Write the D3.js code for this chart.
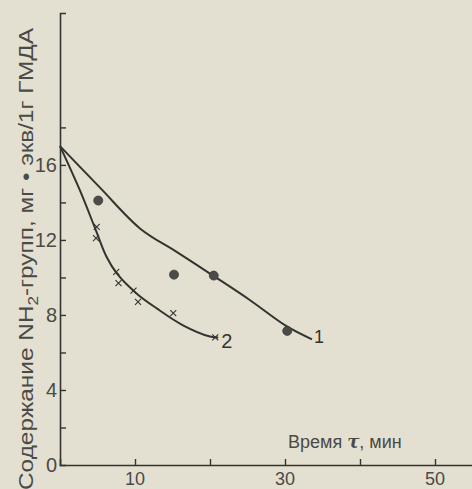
<!DOCTYPE html>
<html>
<head>
<meta charset="utf-8">
<title>NH2-группы ГМДА</title>
<style type="text/css">
body {margin: 0; background: #e4e0d1;}
svg {display: block;}
.axis text {font-family: "Liberation Sans", sans-serif; fill: #4a4a46;}
</style>
</head>
<body>
<svg width="472" height="489"></svg>
<script src="https://d3js.org/d3.v7.min.js"></script>
<script>
// значения (время, мин / мг-экв NH2 на 1 г ГМДА)
var curve1T = [0, 5.3, 10.7, 15.6, 20.4, 25.3, 30.2, 33.6];
var curve1V = [17.0, 14.8, 12.6, 11.35, 10.1, 8.8, 7.4, 6.7];
var curve2T = [0, 2.7, 4.7, 6.2, 7.6, 10.2, 12.9, 16.4, 20, 21.1];
var curve2V = [17.0, 14.6, 12.6, 11.1, 10.2, 9.15, 8.35, 7.45, 6.85, 6.8];
var circleT = [5.1, 15.2, 20.5, 30.3];
var circleV = [14.1, 10.15, 10.1, 7.15];
var crossT = [4.9, 4.8, 7.5, 7.8, 9.8, 10.4, 15.1, 20.7];
var crossV = [12.7, 12.1, 10.3, 9.7, 9.3, 8.7, 8.1, 6.8];
var xTicks = [10, 20, 30, 40, 50];
var xLabels = [10, 30, 50];
var yTicks = [2, 4, 6, 8, 10, 12, 14, 16, 18];
var yLabels = [0, 4, 8, 12, 16];

var ink = "#33332f";
var svg = d3.select("svg");

var x = d3.scaleLinear().domain([0, 55]).range([60, 472.5]);
var y = d3.scaleLinear().domain([0, 24.1]).range([465, 13]);

function zip(a, b) {
    return a.map(function(d, i) { return [d, b[i]]; });
}

// оси
var gx = svg.append("g")
    .attr("class", "axis")
    .attr("transform", "translate(0," + y(0) + ")")
    .call(d3.axisTop(x).tickValues(xTicks).tickSize(6).tickFormat(""));
gx.select(".domain").attr("stroke", ink).attr("stroke-width", 1.6);
gx.selectAll(".tick line").attr("stroke", ink).attr("stroke-width", 1.4);

var gy = svg.append("g")
    .attr("class", "axis")
    .attr("transform", "translate(" + x(0) + ",0)")
    .call(d3.axisRight(y).tickValues(yTicks).tickSize(6).tickFormat(""));
gy.select(".domain").attr("stroke", ink).attr("stroke-width", 1.6);
gy.selectAll(".tick line").attr("stroke", ink).attr("stroke-width", 1.4);

svg.append("g").attr("class", "axis")
    .selectAll("text")
    .data(xLabels)
    .enter().append("text")
    .attr("x", function(d) { return x(d); })
    .attr("y", 485)
    .attr("text-anchor", "middle")
    .attr("font-size", 18)
    .text(function(d) { return d; });

svg.append("g").attr("class", "axis")
    .selectAll("text")
    .data(yLabels)
    .enter().append("text")
    .attr("x", 57)
    .attr("y", function(d) { return y(d); })
    .attr("dy", "0.36em")
    .attr("text-anchor", "end")
    .attr("font-size", 20)
    .text(function(d) { return d; });

// подписи осей
var xt = svg.append("text")
    .attr("x", 288)
    .attr("y", 448)
    .attr("font-family", "Liberation Sans, sans-serif")
    .attr("font-size", 18)
    .attr("fill", "#4a4a46");
xt.append("tspan").text("Время ");
xt.append("tspan").attr("font-style", "italic").attr("font-weight", "bold").attr("font-family", "DejaVu Serif, serif").text("τ");
xt.append("tspan").text(", мин");

var yt = svg.append("text")
    .attr("transform", "translate(33,28) rotate(-90)")
    .attr("text-anchor", "end")
    .attr("font-family", "Liberation Sans, sans-serif")
    .attr("font-size", 20)
    .attr("fill", "#4a4a46")
    .attr("textLength", 462)
    .attr("lengthAdjust", "spacingAndGlyphs");
yt.append("tspan").text("Содержание NH");
yt.append("tspan").attr("font-size", 14).attr("dy", 5).text("2");
yt.append("tspan").attr("dy", -5).text("-групп, мг • экв/1г ГМДА");

// кривые
var line = d3.line()
    .x(function(d) { return x(d[0]); })
    .y(function(d) { return y(d[1]); })
    .curve(d3.curveCatmullRom.alpha(0.5));

[zip(curve1T, curve1V), zip(curve2T, curve2V)].forEach(function(pts) {
    svg.append("path")
        .datum(pts)
        .attr("d", line)
        .attr("fill", "none")
        .attr("stroke", ink)
        .attr("stroke-width", 2);
});

// точки
svg.append("g")
    .selectAll("circle")
    .data(zip(circleT, circleV))
    .enter().append("circle")
    .attr("cx", function(d) { return x(d[0]); })
    .attr("cy", function(d) { return y(d[1]); })
    .attr("r", 4.5)
    .attr("fill", "#4b4b47")
    .attr("stroke", "#3a3a36")
    .attr("stroke-width", 0.8);

svg.append("g")
    .selectAll("path")
    .data(zip(crossT, crossV))
    .enter().append("path")
    .attr("transform", function(d) { return "translate(" + x(d[0]) + "," + y(d[1]) + ")"; })
    .attr("d", "M-3,-3L3,3M-3,3L3,-3")
    .attr("stroke", ink)
    .attr("stroke-width", 1.1);

// номера кривых
svg.append("text")
    .attr("x", x(curve1T[curve1T.length - 1]) + 2)
    .attr("y", y(curve1V[curve1V.length - 1]) + 4)
    .attr("font-family", "Liberation Sans, sans-serif")
    .attr("font-size", 18)
    .attr("fill", ink)
    .text("1");

svg.append("text")
    .attr("x", x(curve2T[curve2T.length - 1]) + 3)
    .attr("y", y(curve2V[curve2V.length - 1]) + 11)
    .attr("font-family", "Liberation Sans, sans-serif")
    .attr("font-size", 20)
    .attr("fill", ink)
    .text("2");
</script>
</body>
</html>
